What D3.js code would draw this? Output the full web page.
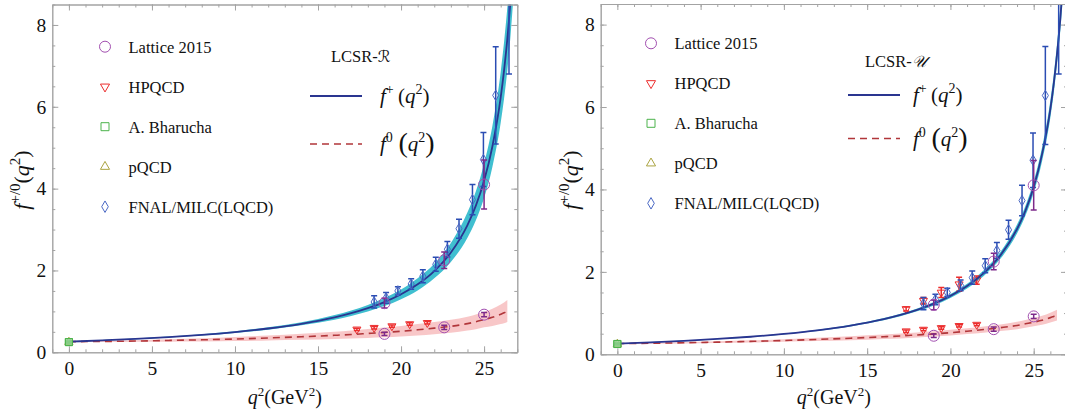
<!DOCTYPE html>
<html>
<head>
<meta charset="utf-8">
<script src="https://cdn.jsdelivr.net/npm/d3@7"></script>
<style>
  body { margin: 0; background: #fff; }
  svg text { font-family: "Liberation Serif", "Times New Roman", serif; fill: #111; }
</style>
</head>
<body>
<svg id="chart" width="1065" height="414"></svg>
<script>
// ---------- form factor curves (q^2 grid in GeV^2) ----------
const qGrid = [0, 2, 4, 6, 8, 10, 12, 14, 16, 17, 18, 19, 20, 21, 22, 23, 24, 24.5, 25, 25.5, 26, 26.2, 26.4, 26.6, 26.8];

// LCSR-R : f+ central value and band edges
const fPlusR     = [0.26, 0.291, 0.327, 0.372, 0.426, 0.495, 0.582, 0.697, 0.854, 0.955, 1.078, 1.228, 1.417, 1.661, 1.986, 2.439, 3.110, 3.577, 4.19, 5.03, 6.23, 6.88, 7.66, 8.64, 9.85];
const fPlusRLow  = [0.255, 0.284, 0.317, 0.359, 0.409, 0.473, 0.553, 0.659, 0.798, 0.888, 0.997, 1.130, 1.297, 1.512, 1.807, 2.207, 2.80, 3.22, 3.77, 4.53, 5.61, 6.19, 6.89, 7.78, 8.87];
const fPlusRHigh = [0.265, 0.298, 0.337, 0.385, 0.443, 0.517, 0.611, 0.735, 0.910, 1.022, 1.159, 1.326, 1.537, 1.810, 2.165, 2.671, 3.42, 3.93, 4.61, 5.53, 6.85, 7.57, 8.43, 9.50, 10.84];

// LCSR-U : f+ central value and band edges
const fPlusU     = [0.26, 0.291, 0.327, 0.372, 0.426, 0.495, 0.582, 0.697, 0.854, 0.955, 1.078, 1.228, 1.417, 1.655, 1.97, 2.40, 3.04, 3.48, 4.06, 4.85, 5.95, 6.55, 7.28, 8.15, 9.25];
const fPlusULow  = [0.255, 0.285, 0.320, 0.364, 0.416, 0.483, 0.567, 0.677, 0.828, 0.925, 1.043, 1.187, 1.369, 1.597, 1.901, 2.316, 2.93, 3.36, 3.92, 4.68, 5.74, 6.32, 7.03, 7.86, 8.93];
const fPlusUHigh = [0.265, 0.297, 0.334, 0.380, 0.436, 0.507, 0.597, 0.717, 0.880, 0.985, 1.113, 1.269, 1.465, 1.713, 2.039, 2.484, 3.15, 3.60, 4.20, 5.02, 6.16, 6.78, 7.53, 8.44, 9.57];

// f0 runs up to q^2_max = 26.4 GeV^2
const qGridZero = [0, 2, 4, 6, 8, 10, 12, 14, 16, 17, 18, 19, 20, 21, 22, 23, 24, 24.5, 25, 25.5, 26, 26.2, 26.4];
const fZeroR       = [0.26, 0.265, 0.275, 0.29, 0.305, 0.325, 0.35, 0.38, 0.415, 0.435, 0.46, 0.485, 0.515, 0.55, 0.59, 0.635, 0.70, 0.745, 0.80, 0.855, 0.93, 0.965, 1.01];
const fZeroRSpread = [0.01, 0.015, 0.02, 0.03, 0.04, 0.05, 0.06, 0.075, 0.09, 0.10, 0.11, 0.12, 0.13, 0.14, 0.15, 0.16, 0.17, 0.18, 0.19, 0.21, 0.24, 0.255, 0.27];
const fZeroU       = [0.26, 0.268, 0.28, 0.295, 0.313, 0.335, 0.36, 0.39, 0.425, 0.445, 0.47, 0.495, 0.525, 0.56, 0.60, 0.645, 0.70, 0.74, 0.78, 0.825, 0.89, 0.92, 0.95];
const fZeroUSpread = [0.01, 0.012, 0.015, 0.02, 0.025, 0.03, 0.04, 0.05, 0.055, 0.06, 0.062, 0.065, 0.068, 0.07, 0.075, 0.08, 0.09, 0.095, 0.10, 0.11, 0.12, 0.125, 0.13];

// ---------- comparison data points ----------
const latticeQ       = [19.0, 22.6, 25.0];
const latticePlus    = [1.20, 2.25, 4.10];
const latticePlusErr = [0.12, 0.20, 0.60];
const latticeZero    = [0.45, 0.61, 0.92];
const latticeZeroErr = [0.04, 0.05, 0.05];

const hpqcdQ       = [17.34, 18.38, 19.45, 20.52, 21.58];
const hpqcdZero    = [0.56, 0.60, 0.64, 0.69, 0.72];
const hpqcdZeroErr = [0.03, 0.03, 0.03, 0.03, 0.03];
const hpqcdPlus    = [1.10, 1.30, 1.50, 1.70, 1.80];
const hpqcdPlusErr = [0.05, 0.08, 0.12, 0.17, 0.10];

const bharuchaQ   = [0, 0];
const bharuchaVal = [0.25, 0.25];
const bharuchaErr = [0.02, 0.02];

const pqcdQ   = [0];
const pqcdVal = [0.25];

const fnalQ    = [18.38, 19.10, 19.81, 20.61, 21.31, 22.09, 22.79, 23.49, 24.30, 24.96, 25.70, 26.50];
const fnalPlus = [1.23, 1.33, 1.50, 1.67, 1.86, 2.15, 2.52, 3.02, 3.73, 4.71, 6.28, 9.00];
const fnalErr  = [0.15, 0.13, 0.10, 0.13, 0.16, 0.17, 0.19, 0.23, 0.37, 0.66, 1.19, 2.20];

// ---------- axes ----------
const xDomain = [-1, 27];
const yDomain = [0, 8.5];
const xMajorTicks = [0, 5, 10, 15, 20, 25];
const yMajorTicks = [0, 2, 4, 6, 8];
const xMinorTicks = d3.range(-1, 28, 1);
const yMinorTicks = d3.range(0, 8.51, 0.5);

const legendNames = ["Lattice 2015", "HPQCD", "A. Bharucha", "pQCD", "FNAL/MILC(LQCD)"];

const SERIF = '"Liberation Serif", "Times New Roman", serif';

const C = {
  frame: "#a3a3a3",
  lattice: "#a24fb0", latticeBar: "#7d2a8a",
  hpqcd: "#ec2d2d",
  bharucha: "#4cb34c",
  pqcd: "#aaa340",
  fnal: "#4a68c4", fnalBar: "#2b4db3",
  plusLine: "#2a3590", plusBand: "#40bfd0",
  zeroLine: "#b1363a", zeroBand: "#f6b9ba"
};

const svg = d3.select("#chart");

const panels = [
  { id: "R", left: 52.3, right: 517.3, top: 4.5, bottom: 352.3,
    fPlus: fPlusR, fPlusLow: fPlusRLow, fPlusHigh: fPlusRHigh,
    fZero: fZeroR, fZeroSpread: fZeroRSpread, showHpqcdPlus: false,
    legendX: 105, legendY: 46.7, tagLabel: "\u211B", tagX: 331, tagY: 62,
    keyLineX: 310, keyTextX: 380, keyPlusY: 96, keyZeroY: 144 },
  { id: "U", left: 600.7, right: 1067, top: 4, bottom: 354.3,
    fPlus: fPlusU, fPlusLow: fPlusULow, fPlusHigh: fPlusUHigh,
    fZero: fZeroU, fZeroSpread: fZeroUSpread, showHpqcdPlus: true,
    legendX: 651, legendY: 43.3, tagLabel: "\uD835\uDCB0", tagX: 865, tagY: 67,
    keyLineX: 848, keyTextX: 913, keyPlusY: 95, keyZeroY: 138.5 }
];

const sym = {
  circle: d3.symbol().type(d3.symbolCircle),
  tri: d3.symbol().type(d3.symbolTriangle),
  square: d3.symbol().type(d3.symbolSquare),
  diamond: d3.symbol().type(d3.symbolDiamond)
};

function errorBars(g, x, y, qs, vals, errs, color, cap) {
  const data = qs.map((q, i) => ({ q, v: vals[i], e: errs[i] }));
  const eb = g.append("g").attr("stroke", color).attr("stroke-width", 1.5).attr("fill", "none");
  eb.selectAll("line.v").data(data).join("line")
    .attr("x1", d => x(d.q)).attr("x2", d => x(d.q))
    .attr("y1", d => y(d.v - d.e)).attr("y2", d => y(d.v + d.e));
  eb.selectAll("line.lo").data(data).join("line")
    .attr("x1", d => x(d.q) - cap).attr("x2", d => x(d.q) + cap)
    .attr("y1", d => y(d.v - d.e)).attr("y2", d => y(d.v - d.e));
  eb.selectAll("line.hi").data(data).join("line")
    .attr("x1", d => x(d.q) - cap).attr("x2", d => x(d.q) + cap)
    .attr("y1", d => y(d.v + d.e)).attr("y2", d => y(d.v + d.e));
}

function markers(g, x, y, qs, vals, shape, size, color, rot) {
  g.append("g").selectAll("path").data(qs.map((q, i) => ({ q, v: vals[i] }))).join("path")
    .attr("d", sym[shape].size(size)())
    .attr("transform", d => `translate(${x(d.q)},${y(d.v)})` + (rot ? ` rotate(${rot})` : ""))
    .attr("fill", "none").attr("stroke", color).attr("stroke-width", 1);
}

function drawPanel(p) {
  const x = d3.scaleLinear().domain(xDomain).range([p.left, p.right]);
  const y = d3.scaleLinear().domain(yDomain).range([p.bottom, p.top]);
  const g = svg.append("g");

  g.append("clipPath").attr("id", "clip" + p.id).append("rect")
    .attr("x", p.left).attr("y", p.top).attr("width", p.right - p.left).attr("height", p.bottom - p.top);
  const plot = g.append("g").attr("clip-path", `url(#clip${p.id})`);

  // uncertainty bands
  const plusRows = qGrid.map((q, i) => ({ q, v: p.fPlus[i], lo: p.fPlusLow[i], hi: p.fPlusHigh[i] }));
  const zeroRows = qGridZero.map((q, i) => ({ q, v: p.fZero[i], lo: p.fZero[i] - p.fZeroSpread[i], hi: p.fZero[i] + p.fZeroSpread[i] }));
  const band = d3.area().x(d => x(d.q)).y0(d => y(d.lo)).y1(d => y(d.hi)).curve(d3.curveMonotoneX);
  const central = d3.line().x(d => x(d.q)).y(d => y(d.v)).curve(d3.curveMonotoneX);

  plot.append("path").datum(zeroRows).attr("d", band).attr("fill", C.zeroBand).attr("opacity", 0.8);
  plot.append("path").datum(plusRows).attr("d", band).attr("fill", C.plusBand);

  // data points beneath the curves
  errorBars(plot, x, y, hpqcdQ, hpqcdZero, hpqcdZeroErr, C.hpqcd, 3);
  markers(plot, x, y, hpqcdQ, hpqcdZero, "tri", 28, C.hpqcd, 180);
  if (p.showHpqcdPlus) {
    errorBars(plot, x, y, hpqcdQ, hpqcdPlus, hpqcdPlusErr, C.hpqcd, 3);
    markers(plot, x, y, hpqcdQ, hpqcdPlus, "tri", 28, C.hpqcd, 180);
  }

  plot.append("path").datum(zeroRows).attr("d", central).attr("fill", "none")
    .attr("stroke", C.zeroLine).attr("stroke-width", 1.6).attr("stroke-dasharray", "7,5");
  plot.append("path").datum(plusRows).attr("d", central).attr("fill", "none")
    .attr("stroke", C.plusLine).attr("stroke-width", 1.8);

  errorBars(plot, x, y, fnalQ, fnalPlus, fnalErr, C.fnalBar, 3);
  markers(plot, x, y, fnalQ, fnalPlus, "diamond", 32, C.fnal, 0);

  errorBars(plot, x, y, latticeQ, latticePlus, latticePlusErr, C.latticeBar, 3);
  errorBars(plot, x, y, latticeQ, latticeZero, latticeZeroErr, C.latticeBar, 3);
  markers(plot, x, y, latticeQ, latticePlus, "circle", 95, C.lattice, 0);
  markers(plot, x, y, latticeQ, latticeZero, "circle", 95, C.lattice, 0);

  markers(plot, x, y, pqcdQ, pqcdVal, "tri", 30, C.pqcd, 0);
  errorBars(plot, x, y, bharuchaQ, bharuchaVal, bharuchaErr, C.bharucha, 3);
  plot.append("g").selectAll("path").data(bharuchaQ.map((q, i) => ({ q, v: bharuchaVal[i] }))).join("path")
    .attr("d", sym.square.size(50)())
    .attr("transform", d => `translate(${x(d.q)},${y(d.v)})`)
    .attr("fill", "#8fd08f").attr("fill-opacity", 0.6).attr("stroke", C.bharucha).attr("stroke-width", 1);

  // frame with inward ticks
  const styleAxis = sel => {
    sel.attr("font-family", null).attr("font-size", null);
    sel.selectAll(".domain").attr("stroke", C.frame);
    sel.selectAll(".tick line").attr("stroke", C.frame);
    sel.selectAll("text").attr("fill", "#111").style("font-size", "19.5px").style("font-family", SERIF);
  };
  const noLabel = () => "";

  g.append("g").attr("transform", `translate(0,${p.bottom})`)
    .call(d3.axisBottom(x).tickValues(xMinorTicks).tickSize(-3).tickSizeOuter(0).tickFormat(noLabel)).call(styleAxis);
  g.append("g").attr("transform", `translate(0,${p.bottom})`)
    .call(d3.axisBottom(x).tickValues(xMajorTicks).tickSize(-6).tickSizeOuter(0).tickPadding(9)).call(styleAxis);
  g.append("g").attr("transform", `translate(0,${p.top})`)
    .call(d3.axisTop(x).tickValues(xMinorTicks).tickSize(-3).tickSizeOuter(0).tickFormat(noLabel)).call(styleAxis);
  g.append("g").attr("transform", `translate(0,${p.top})`)
    .call(d3.axisTop(x).tickValues(xMajorTicks).tickSize(-6).tickSizeOuter(0).tickFormat(noLabel)).call(styleAxis);

  g.append("g").attr("transform", `translate(${p.left},0)`)
    .call(d3.axisLeft(y).tickValues(yMinorTicks).tickSize(-3).tickSizeOuter(0).tickFormat(noLabel)).call(styleAxis);
  g.append("g").attr("transform", `translate(${p.left},0)`)
    .call(d3.axisLeft(y).tickValues(yMajorTicks).tickSize(-6).tickSizeOuter(0).tickPadding(6)).call(styleAxis);
  g.append("g").attr("transform", `translate(${p.right},0)`)
    .call(d3.axisRight(y).tickValues(yMinorTicks).tickSize(-3).tickSizeOuter(0).tickFormat(noLabel)).call(styleAxis);
  g.append("g").attr("transform", `translate(${p.right},0)`)
    .call(d3.axisRight(y).tickValues(yMajorTicks).tickSize(-6).tickSizeOuter(0).tickFormat(noLabel)).call(styleAxis);

  // axis titles
  const xt = g.append("text").attr("x", (p.left + p.right) / 2).attr("y", 404)
    .attr("text-anchor", "middle").style("font-size", "20px").style("font-family", SERIF);
  xt.append("tspan").style("font-style", "italic").text("q");
  xt.append("tspan").attr("dy", -8).style("font-size", "13px").text("2");
  xt.append("tspan").attr("dy", 8).text("(GeV");
  xt.append("tspan").attr("dy", -8).style("font-size", "13px").text("2");
  xt.append("tspan").attr("dy", 8).text(")");

  const yt = g.append("text")
    .attr("transform", `translate(${p.left - 23},180) rotate(-90)`)
    .attr("text-anchor", "middle").style("font-size", "22px").style("font-family", SERIF);
  yt.append("tspan").style("font-style", "italic").text("f");
  yt.append("tspan").attr("dy", -9).style("font-size", "15px").text("+/0");
  yt.append("tspan").attr("dy", 9).text("(");
  yt.append("tspan").style("font-style", "italic").text("q");
  yt.append("tspan").attr("dy", -9).style("font-size", "15px").text("2");
  yt.append("tspan").attr("dy", 9).text(")");

  // legend of data sets
  const shapes = [
    { s: "circle", size: 95, c: C.lattice, rot: 0 },
    { s: "tri", size: 36, c: C.hpqcd, rot: 180 },
    { s: "square", size: 64, c: C.bharucha, rot: 0 },
    { s: "tri", size: 36, c: C.pqcd, rot: 0 },
    { s: "diamond", size: 38, c: C.fnal, rot: 0 }
  ];
  const lg = g.append("g");
  legendNames.forEach((name, i) => {
    const yy = p.legendY + i * 40;
    lg.append("path").attr("d", sym[shapes[i].s].size(shapes[i].size)())
      .attr("transform", `translate(${p.legendX},${yy}) rotate(${shapes[i].rot})`)
      .attr("fill", "none").attr("stroke", shapes[i].c).attr("stroke-width", 1);
    lg.append("text").attr("x", p.legendX + 23.5).attr("y", yy + 6)
      .style("font-size", "16.5px").style("font-family", SERIF).text(name);
  });

  // curve key
  const tag = g.append("text").attr("x", p.tagX).attr("y", p.tagY)
    .style("font-size", "16.5px").style("font-family", SERIF);
  tag.append("tspan").text("LCSR-");
  tag.append("tspan").style("font-family", '"DejaVu Serif", "DejaVu Sans", "Noto Sans", serif')
    .style("font-style", "italic").style("font-size", "16px").text(p.tagLabel);

  g.append("line").attr("x1", p.keyLineX).attr("x2", p.keyLineX + 52)
    .attr("y1", p.keyPlusY).attr("y2", p.keyPlusY).attr("stroke", C.plusLine).attr("stroke-width", 1.8);
  g.append("line").attr("x1", p.keyLineX).attr("x2", p.keyLineX + 52)
    .attr("y1", p.keyZeroY).attr("y2", p.keyZeroY).attr("stroke", C.zeroLine)
    .attr("stroke-width", 1.6).attr("stroke-dasharray", "7,5");

  const kp = g.append("text").attr("x", p.keyTextX).attr("y", p.keyPlusY + 7)
    .style("font-size", "21px").style("font-family", SERIF);
  kp.append("tspan").style("font-style", "italic").text("f");
  kp.append("tspan").attr("dy", -9).style("font-size", "14px").text("+");
  kp.append("tspan").attr("dy", 9).text("\u2009(");
  kp.append("tspan").style("font-style", "italic").text("q");
  kp.append("tspan").attr("dy", -9).style("font-size", "14px").text("2");
  kp.append("tspan").attr("dy", 9).text(")");

  const kz = g.append("text").attr("x", p.keyTextX).attr("y", p.keyZeroY + 7)
    .style("font-size", "21px").style("font-family", SERIF);
  kz.append("tspan").style("font-style", "italic").text("f");
  kz.append("tspan").attr("dy", -9).style("font-size", "14px").text("0");
  kz.append("tspan").attr("dy", 10).style("font-size", "28px").text("\u2009(");
  kz.append("tspan").attr("dy", -1).style("font-style", "italic").text("q");
  kz.append("tspan").attr("dy", -9).style("font-size", "14px").text("2");
  kz.append("tspan").attr("dy", 10).style("font-size", "28px").text(")");
}

panels.forEach(drawPanel);
</script>
</body>
</html>
